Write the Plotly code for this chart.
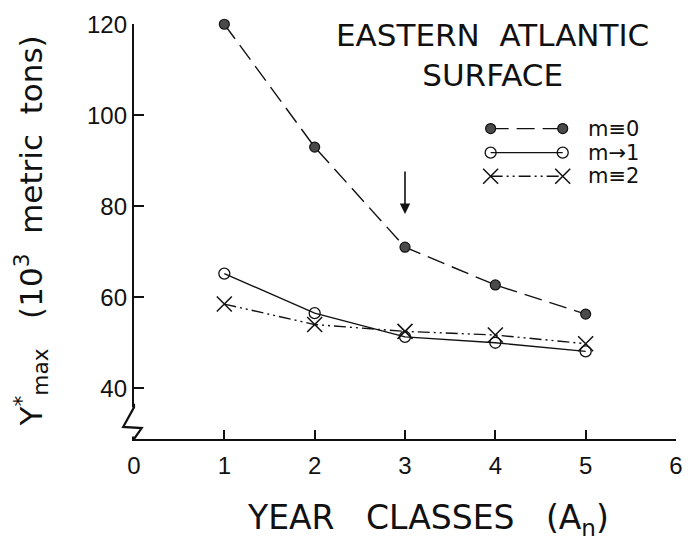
import plotly.graph_objects as go

# ---- data ----
year_classes = [1, 2, 3, 4, 5]
y_m0 = [120, 93, 71, 62.7, 56.3]
y_m1 = [65.2, 56.5, 51.3, 50.0, 48.1]
y_m2 = [58.5, 54.0, 52.5, 51.7, 49.8]
series_names = ["m\u22610", "m\u21921", "m\u22612"]
x_ticks = [0, 1, 2, 3, 4, 5, 6]
y_ticks = [40, 60, 80, 100, 120]
arrow_year = 3

FONT = "Liberation Sans"
TFONT = "DejaVu Sans"
BLACK = "#111111"
NB = "\u00a0"

X_RANGE = [0, 6]
Y_RANGE = [28.85, 120.05]


def data_x(p):
    return X_RANGE[0] + p * (X_RANGE[1] - X_RANGE[0])


def data_y(p):
    return Y_RANGE[0] + p * (Y_RANGE[1] - Y_RANGE[0])


def py(yv):
    return (yv - Y_RANGE[0]) / (Y_RANGE[1] - Y_RANGE[0])


fig = go.Figure()

styles = [
    dict(dash="18px,8px", symbol="circle", size=10, color="#4a4a4a", lw=1.2),
    dict(dash="solid", symbol="circle-open", size=11, color=BLACK, lw=1.3),
    dict(dash="12px,4px,2px,4px,2px,4px", symbol="x-thin", size=15, color=BLACK, lw=1.5),
]
for ys, st, name in zip([y_m0, y_m1, y_m2], styles, series_names):
    fig.add_trace(go.Scatter(
        x=year_classes, y=ys, mode="lines+markers", name=name, showlegend=False,
        line=dict(color=BLACK, width=1.4, dash=st["dash"]),
        marker=dict(symbol=st["symbol"], size=st["size"], color=st["color"],
                    line=dict(color=BLACK, width=st["lw"])),
        cliponaxis=False,
    ))

# ---- custom legend: sample line with a marker at each end ----
leg_rows = [0.748, 0.690, 0.633]
leg_x = [0.658, 0.791]
for row, st, name in zip(leg_rows, styles, series_names):
    fig.add_trace(go.Scatter(
        x=[data_x(v) for v in leg_x], y=[data_y(row)] * 2, mode="lines+markers",
        showlegend=False, hoverinfo="skip",
        line=dict(color=BLACK, width=1.4, dash=st["dash"]),
        marker=dict(symbol=st["symbol"], size=st["size"], color=st["color"],
                    line=dict(color=BLACK, width=st["lw"])),
        cliponaxis=False,
    ))
    fig.add_annotation(x=0.834, y=row, xref="paper", yref="paper", text=name,
                       showarrow=False, xanchor="left", yanchor="middle",
                       font=dict(family=TFONT, size=21, color=BLACK))

# ---- axis break on the y axis: mask the bottom of the axis line, draw a zigzag ----
fig.add_shape(type="rect", xref="paper", yref="paper",
              x0=-0.03, x1=0.02, y0=py(Y_RANGE[0]) + 0.006, y1=py(35.8),
              fillcolor="white", line=dict(width=0), layer="above")
zz = [(0, 36.6), (0, 35.8), (-0.02, 31.5), (0.0142, 31.25), (0, Y_RANGE[0])]
path = "M " + " L ".join(f"{a:.5f},{py(b):.5f}" for a, b in zz)
fig.add_shape(type="path", xref="paper", yref="paper", path=path,
              line=dict(color=BLACK, width=2.2), layer="above")

# ---- arrow at year class 3 ----
fig.add_annotation(x=arrow_year, y=78.3, xref="x", yref="y", text="",
                   showarrow=True, ax=0, ay=-44, arrowhead=2, arrowsize=1.3,
                   arrowwidth=1.6, arrowcolor=BLACK)

# ---- titles ----
fig.add_annotation(x=0.661, y=0.926, xref="paper", yref="paper",
                   text=f"EASTERN{NB}{NB}ATLANTIC<br>SURFACE", showarrow=False,
                   xanchor="center", yanchor="middle",
                   font=dict(family=TFONT, size=31, color=BLACK))
fig.add_annotation(x=0.543, y=-0.195, xref="paper", yref="paper",
                   text=f"YEAR{NB}{NB}{NB}CLASSES{NB}{NB}{NB}(A<sub>n</sub>)", showarrow=False,
                   xanchor="center", yanchor="middle",
                   font=dict(family=TFONT, size=33, color=BLACK))
fig.add_annotation(x=-0.19, y=0.50, xref="paper", yref="paper",
                   text=f"Y<sup>*</sup><sub>max</sub>{NB}{NB}{NB}(10<sup>3</sup>{NB}{NB}metric{NB}{NB}tons)",
                   showarrow=False, textangle=-90,
                   xanchor="center", yanchor="middle",
                   font=dict(family=TFONT, size=31, color=BLACK))

fig.update_layout(
    width=694, height=541,
    margin=dict(l=134, r=11, t=19, b=102),
    paper_bgcolor="white", plot_bgcolor="white",
    font=dict(family=FONT, color=BLACK),
    xaxis=dict(range=X_RANGE, tickvals=x_ticks, ticks="inside", ticklen=9,
               tickwidth=1.5, tickcolor=BLACK, showline=True, linecolor=BLACK,
               linewidth=2, showgrid=False, zeroline=False, ticklabelstandoff=4,
               tickfont=dict(family=FONT, size=24, color=BLACK)),
    yaxis=dict(range=Y_RANGE, tickvals=y_ticks, ticks="inside",
               ticklen=10, tickwidth=1.5, tickcolor=BLACK, showline=True,
               linecolor=BLACK, linewidth=2.4,
               showgrid=False, zeroline=False,
               tickfont=dict(family=FONT, size=24, color=BLACK)),
    showlegend=False,
)

fig.write_html("out.html")
